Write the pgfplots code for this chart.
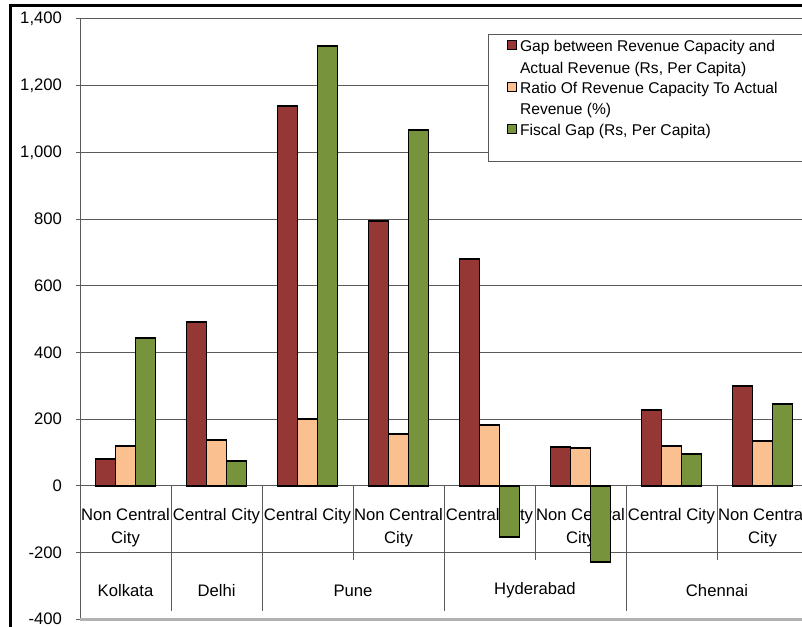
\documentclass[border=0pt]{standalone}
\usepackage{pgfplots}
\pgfplotsset{compat=1.18}
\usepackage{fontspec}
\setmainfont{Liberation Sans}

\definecolor{gapred}{HTML}{953735}
\definecolor{ratioorange}{HTML}{FAC090}
\definecolor{fiscalgreen}{HTML}{77933C}
\definecolor{gridgray}{HTML}{5A5A5A}

% legend text set over two lines, baseline on the first line
\newcommand{\twolines}[2]{\vtop{\hbox{#1}\hbox{#2}}}

% city/category index, gap (Rs per capita), ratio (%), fiscal gap (Rs per capita)
\pgfplotstableread{
idx gap   ratio fiscal
0   80    118   444
1   492   138   73
2   1140  199   1320
3   795   156   1067
4   679   182   -155
5   116   112   -228
6   226   118   96
7   300   133   245
}\citydata

\begin{document}
\begin{tikzpicture}
% outer chart frame (1px = 0.75pt)
\draw[black, line width=2.25pt] (8.1pt,-470.25pt) -- (8.1pt,-4.3pt) -- (610pt,-4.3pt);
\begin{axis}[
  at={(60pt,-464.25pt)}, anchor=south west,
  scale only axis,
  width=546pt, height=450pt,
  xmin=-0.5, xmax=7.5,
  ymin=-400, ymax=1400,
  axis x line=none,
  axis y line*=left,
  y axis line style={draw=gridgray, line width=0.75pt},
  ytick={-400,-200,0,200,400,600,800,1000,1200,1400},
  ymajorgrids,
  major grid style={draw=gridgray, line width=0.75pt},
  major tick length=3pt,
  tick align=outside,
  tick style={draw=gridgray, line width=0.75pt},
  yticklabel style={font=\fontsize{12.5}{15}\selectfont, xshift=-7pt},
  /pgf/number format/.cd, 1000 sep={,}, assume math mode=true,
  /pgfplots/.cd,
  ybar=0pt,
  bar width=0.22,
  legend image code/.code={\draw[#1, line width=0.9pt] (0pt,1.5pt) rectangle (6.8pt,8.3pt);},
  legend style={at={(0.5604,0.975)}, anchor=north west,
    draw=gridgray, line width=0.75pt, fill=white,
    font=\fontsize{11.7}{16.3}\selectfont,
    inner xsep=14pt, inner ysep=2.3pt,
    row sep=0pt,
    cells={anchor=base west, inner ysep=2.5pt}},
  clip=false,
]
% bottom border of the plotting area
\draw[gray!60, line width=2.25pt] (axis cs:-0.5,-400) -- (axis cs:7.6,-400);
% category table: separators
\pgfplotsinvokeforeach{0.5,1.5,3.5,5.5}{
  \draw[gridgray, line width=0.75pt] (axis cs:#1,0) -- (axis cs:#1,-375);
}
\pgfplotsinvokeforeach{2.5,4.5,6.5}{
  \draw[gridgray, line width=0.75pt] (axis cs:#1,0) -- (axis cs:#1,-222);
}
% first-level category labels
\begin{scope}[every node/.style={font=\fontsize{12.5}{16.7}\selectfont, align=center, inner sep=0pt}]
\node at (axis cs:0,-126) {Non Central\\City};
\node at (axis cs:1,-92) {Central City};
\node at (axis cs:2,-92) {Central City};
\node at (axis cs:3,-126) {Non Central\\City};
\node at (axis cs:4,-92) {Central City};
\node at (axis cs:5,-126) {Non Central\\City};
\node at (axis cs:6,-92) {Central City};
\node at (axis cs:7,-126) {Non Central\\City};
% second-level (city) labels
\node at (axis cs:0,-315) {Kolkata};
\node at (axis cs:1,-315) {Delhi};
\node at (axis cs:2.5,-315) {Pune};
\node at (axis cs:4.5,-315) {Hyderabad};
\node at (axis cs:6.5,-315) {Chennai};
\end{scope}
\addplot[fill=gapred, draw=black, line width=1.4pt, bar shift=-0.22] table[x=idx, y=gap] {\citydata};
\addlegendentry[text depth=18.8pt]{\twolines{\makebox[215pt][l]{Gap between Revenue Capacity and}}{Actual Revenue (Rs, Per Capita)}}
\addplot[fill=ratioorange, draw=black, line width=1.4pt, bar shift=0] table[x=idx, y=ratio] {\citydata};
\addlegendentry[text depth=19.5pt]{\twolines{Ratio Of Revenue Capacity To Actual}{Revenue (\%)}}
\addplot[fill=fiscalgreen, draw=black, line width=1.4pt, bar shift=0.22] table[x=idx, y=fiscal] {\citydata};
\addlegendentry[text depth=15pt]{Fiscal Gap (Rs, Per Capita)}
\end{axis}
\pgfresetboundingbox
\useasboundingbox (0pt,0pt) rectangle (601.5pt,-470.25pt);
\end{tikzpicture}
\end{document}
